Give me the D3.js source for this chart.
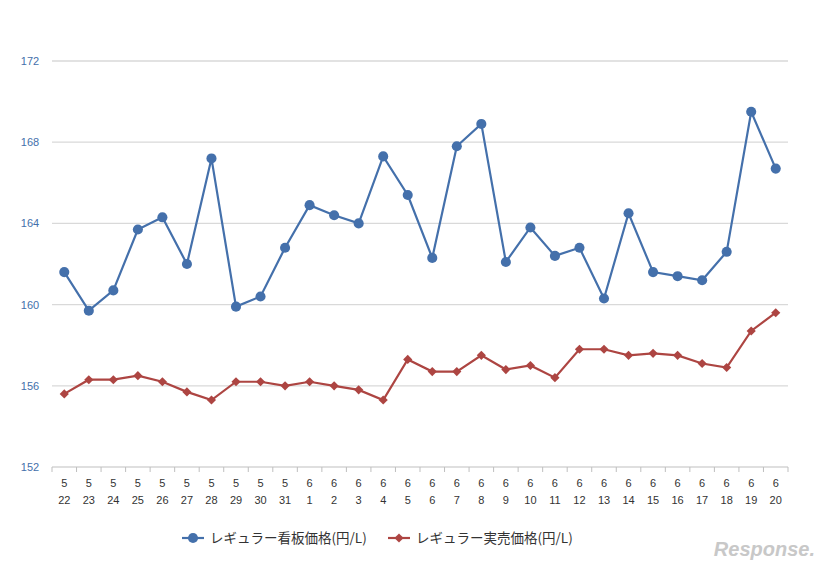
<!DOCTYPE html>
<html><head><meta charset="utf-8">
<script src="https://cdn.jsdelivr.net/npm/d3@7"></script>
<style>body{margin:0;background:#fff;font-family:"Noto Sans CJK JP","Noto Sans",sans-serif}</style>
</head><body><svg id="c" width="828" height="568"></svg>
<script>
const months=[5,5,5,5,5,5,5,5,5,5,6,6,6,6,6,6,6,6,6,6,6,6,6,6,6,6,6,6,6,6];
const days=[22,23,24,25,26,27,28,29,30,31,1,2,3,4,5,6,7,8,9,10,11,12,13,14,15,16,17,18,19,20];
const signPrice=[161.6,159.7,160.7,163.7,164.3,162.0,167.2,159.9,160.4,162.8,164.9,164.4,164.0,167.3,165.4,162.3,167.8,168.9,162.1,163.8,162.4,162.8,160.3,164.5,161.6,161.4,161.2,162.6,169.5,166.7];
const realPrice=[155.6,156.3,156.3,156.5,156.2,155.7,155.3,156.2,156.2,156.0,156.2,156.0,155.8,155.3,157.3,156.7,156.7,157.5,156.8,157.0,156.4,157.8,157.8,157.5,157.6,157.5,157.1,156.9,158.7,159.6];
const yTicks=[152,156,160,164,168,172];
const seriesNames=["レギュラー看板価格(円/L)","レギュラー実売価格(円/L)"];
const colors=["#4470ab","#ad4542"];
const svg=d3.select("#c");
const idx=d3.range(days.length);
const x=d3.scaleBand().domain(idx).range([52,788]);
const y=d3.scaleLinear().domain([152,172]).range([467,61]);
svg.append("g").selectAll("line").data(yTicks.slice(1)).join("line")
 .attr("x1",52).attr("x2",788).attr("y1",d=>y(d)).attr("y2",d=>y(d)).attr("stroke","#d9d9d9").attr("stroke-width",1.3);
svg.append("g").selectAll("text").data(yTicks).join("text")
 .attr("x",30).attr("y",d=>y(d)+4).attr("text-anchor","middle").attr("font-size",11).attr("fill","#4470ab")
 .attr("font-family","Liberation Sans, Arial").text(d=>d);
svg.append("line").attr("x1",52).attr("x2",788).attr("y1",467).attr("y2",467).attr("stroke","#bfbfbf");
svg.append("g").selectAll("line").data(d3.range(days.length+1)).join("line")
 .attr("x1",i=>52+i*x.step()).attr("x2",i=>52+i*x.step()).attr("y1",467).attr("y2",472).attr("stroke","#bfbfbf");
const lab=svg.append("g").attr("font-size",11).attr("fill","#333").attr("text-anchor","middle").attr("font-family","Liberation Sans, Arial");
lab.selectAll(".m").data(idx).join("text").attr("x",i=>x(i)+x.bandwidth()/2).attr("y",487).text(i=>months[i]);
lab.selectAll(".d").data(idx).join("text").attr("x",i=>x(i)+x.bandwidth()/2).attr("y",504).text(i=>days[i]);
const cx=i=>x(i)+x.bandwidth()/2;
const sym=k=>k?d3.symbol().type(d3.symbolSquare).size(42)():d3.symbol().type(d3.symbolCircle).size(80)();
[signPrice,realPrice].forEach((s,k)=>{
 svg.append("path").datum(s).attr("fill","none").attr("stroke",colors[k]).attr("stroke-width",2.2)
  .attr("d",d3.line().x((d,i)=>cx(i)).y(d=>y(d)));
 svg.append("g").selectAll("path").data(s).join("path").attr("fill",colors[k])
  .attr("transform",(d,i)=>`translate(${cx(i)},${y(d)})${k?" rotate(45)":""}`).attr("d",sym(k));
});
const lg=svg.append("g");
[[190,0],[396,1]].forEach(([lx,k])=>{
 lg.append("line").attr("x1",lx-8).attr("x2",lx+14).attr("y1",538).attr("y2",538).attr("stroke",colors[k]).attr("stroke-width",2.2);
 lg.append("path").attr("transform",`translate(${lx+3},538)${k?" rotate(45)":""}`).attr("fill",colors[k]).attr("d",sym(k));
 lg.append("text").attr("x",lx+20).attr("y",543).attr("font-size",13.5).attr("fill","#333").text(seriesNames[k]);
});
svg.append("text").attr("x",815).attr("y",556).attr("text-anchor","end").attr("font-size",20).attr("font-style","italic")
 .attr("font-family","Liberation Sans, Arial").attr("fill","#c8c8c8").attr("font-weight","bold").text("Response.");
</script></body></html>
